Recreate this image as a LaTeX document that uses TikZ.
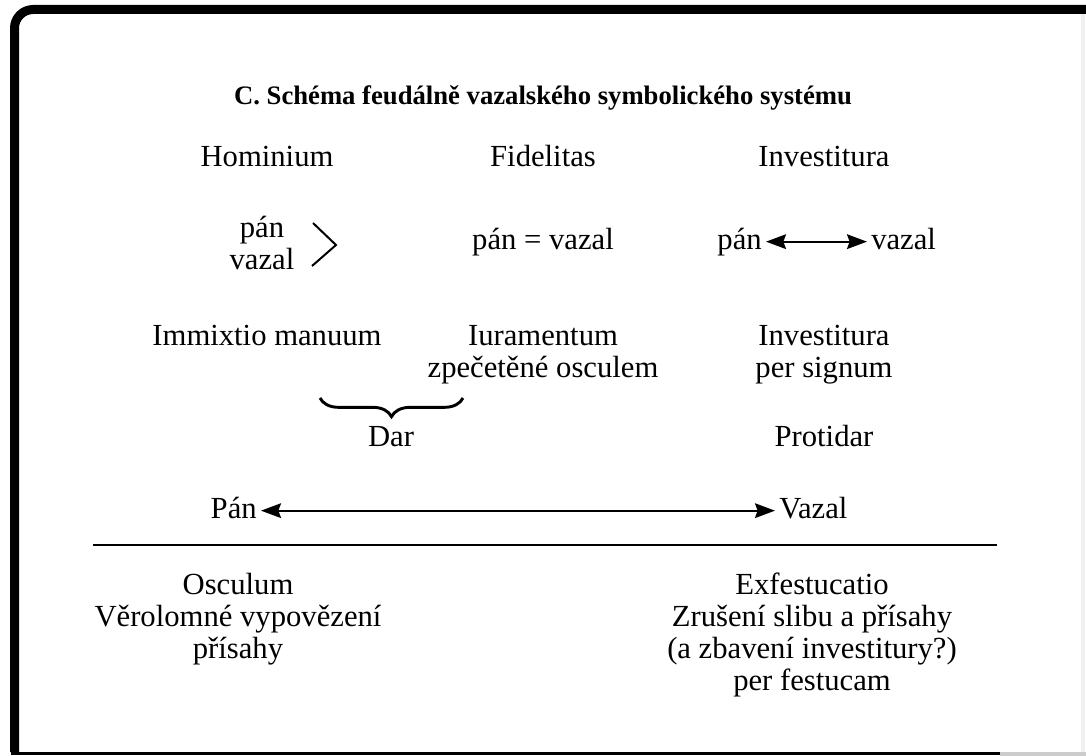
\documentclass[tikz,border=0pt]{standalone}
\usepackage{fontspec}
\setmainfont{Liberation Serif}
\usetikzlibrary{arrows.meta,decorations.pathreplacing}

\newcommand{\txtfont}{\fontsize{23}{24}\selectfont}
\tikzset{
  lbl/.style={anchor=base,inner sep=0pt,align=center,font=\txtfont},
  endlbl/.style={inner sep=3pt,font=\txtfont,text height=11pt,text depth=0pt},
  link/.style={{Stealth[length=15pt,width=11pt,inset=2pt]}-{Stealth[length=15pt,width=11pt,inset=2pt]},line width=1.5pt}
}

\begin{document}
\begin{tikzpicture}[x=0.75pt,y=-0.75pt]
\useasboundingbox (0,0) rectangle (1086,756);
% frame
\draw[line width=6.75pt,rounded corners=14pt] (14.5,752) -- (14.5,9.5) -- (1086,9.5);
\draw[line width=2pt] (11,753.5) -- (1000,753.5);
\draw[gray!40,line width=3pt] (1000,753.5) -- (1086,753.5);
\draw[gray!12,line width=3pt] (1083,14) -- (1083,752);

% title
\node[anchor=base,inner sep=0pt,font=\fontsize{20}{22}\selectfont\bfseries] (title) at (543,105)
  {C. Schéma feudálně vazalského symbolického systému};

% first row
\node[lbl] (hom) at (267,167){Hominium};
\node[lbl] (fid) at (543,167){Fidelitas};
\node[lbl] (inv) at (824,167){Investitura};

\node[lbl] (hompan) at (262,269){pán\\vazal};
\draw[line width=1.5pt] (313,223) -- (336,245) -- (312,266);
\node[lbl] (fideq) at (543,249){pán = vazal};
\node[endlbl,anchor=base east] (invpan) at (766,249){pán};
\node[endlbl,anchor=base west] (invvaz) at (867,249){vazal};
\draw[link] (invpan) -- (invvaz);

% second row
\node[lbl] (immix) at (267,345){Immixtio manuum};
\node[lbl] (iur) at (543,377){Iuramentum\\zpečetěné osculem};
\node[lbl] (invsig) at (824,377){Investitura\\per signum};

\coordinate (bl) at (320,398);
\coordinate (br) at (463,398);
\draw[decorate,decoration={brace,amplitude=14pt},line width=2.2pt] (br) -- (bl);
\node[lbl] (dar) at (391,446){Dar};
\node[lbl] (protidar) at (824,446){Protidar};

% lord and vassal
\node[endlbl,anchor=base east] (pan) at (261,518){Pán};
\node[endlbl,anchor=base west] (vazal) at (775,518){Vazal};
\draw[link] (pan) -- (vazal);

\draw[line width=1.5pt] (93,545) -- (997,545);

% breaking the bond
\node[lbl] (osc) at (238,658){Osculum\\Věrolomné vypovězení\\přísahy};
\node[lbl] (exf) at (812,690){Exfestucatio\\Zrušení slibu a přísahy\\(a zbavení investitury?)\\per festucam};
\end{tikzpicture}
\end{document}
